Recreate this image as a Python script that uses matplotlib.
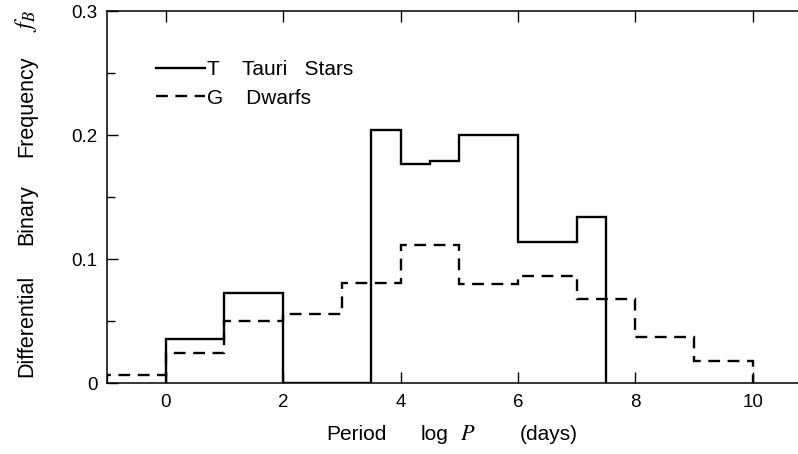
import matplotlib
matplotlib.use("Agg")
import matplotlib.pyplot as plt
from matplotlib.lines import Line2D
from matplotlib.ticker import MultipleLocator

plt.rcParams['font.family'] = ['Liberation Sans', 'DejaVu Sans']
plt.rcParams['mathtext.fontset'] = 'stix'

# T Tauri stars (solid)
tt_edges = [0, 1, 2, 3.5, 4, 4.5, 5, 6, 7, 7.5]
tt_freq = [0.036, 0.073, 0.0, 0.204, 0.177, 0.179, 0.2005, 0.114, 0.134]

# G dwarfs (dashed)
gd_edges = [-1, 0, 1, 2, 3, 4, 5, 6, 7, 8, 9, 10]
gd_freq = [0.0065, 0.0247, 0.0505, 0.0556, 0.0806, 0.1115, 0.080, 0.0868, 0.0677, 0.0376, 0.018]

W, H = 798, 454
fig = plt.figure(figsize=(W / 100, H / 100), dpi=100)
ax = fig.add_axes([107 / W, 1 - 383.3 / H, (W - 107) / W, (383.3 - 11.3) / H])

lw = 1.7
dash = (0, (5.0, 3.2))
ax.stairs(tt_freq, tt_edges, color='black', lw=lw, baseline=0)
ax.stairs(gd_freq, gd_edges, color='black', lw=lw, baseline=0, linestyle=dash)

ax.set_xlim(-1, 10.77)
ax.set_ylim(0, 0.3)

ax.spines['right'].set_visible(False)
for s in ['left', 'top', 'bottom']:
    ax.spines[s].set_linewidth(1.1)

ax.set_xticks([0, 2, 4, 6, 8, 10])
ax.set_yticks([0, 0.1, 0.2, 0.3])
ax.set_yticklabels(['0', '0.1', '0.2', '0.3'])
ax.yaxis.set_minor_locator(MultipleLocator(0.05))
ax.tick_params(axis='x', which='major', direction='in', top=True, length=8,
               width=1.0, labelsize=13.5, pad=8)
ax.tick_params(axis='y', which='major', direction='in', length=8,
               width=1.0, labelsize=13.5, pad=7)
ax.tick_params(axis='y', which='minor', direction='in', length=6, width=1.0)

handles = [Line2D([], [], color='black', lw=lw),
           Line2D([], [], color='black', lw=lw, linestyle=dash)]
ax.legend(handles, ['T    Tauri   Stars', 'G    Dwarfs'], loc='upper left',
          bbox_to_anchor=(0.071, 0.868), frameon=False, fontsize=15,
          handlelength=2.35, handletextpad=0.1, labelspacing=0.45,
          borderaxespad=0, borderpad=0)

# x label words
for txt, xc in [('Period', 356), ('log', 435), (r'$P$', 468), ('(days)', 549)]:
    fs = 16 if txt.startswith('$') else 15
    fig.text(xc / W, 1 - 440 / H, txt, ha='center', va='baseline', fontsize=fs)

# y label words
for txt, yc in [('Differential', 326), ('Binary', 215), ('Frequency', 106.5),
                (r'$f_B$', 21)]:
    fs = 17 if txt.startswith('$') else 15.5
    fig.text(32 / W, 1 - yc / H, txt, ha='center', va='baseline', fontsize=fs,
             rotation=90, rotation_mode='anchor')

fig.savefig('out.png', dpi=100)
